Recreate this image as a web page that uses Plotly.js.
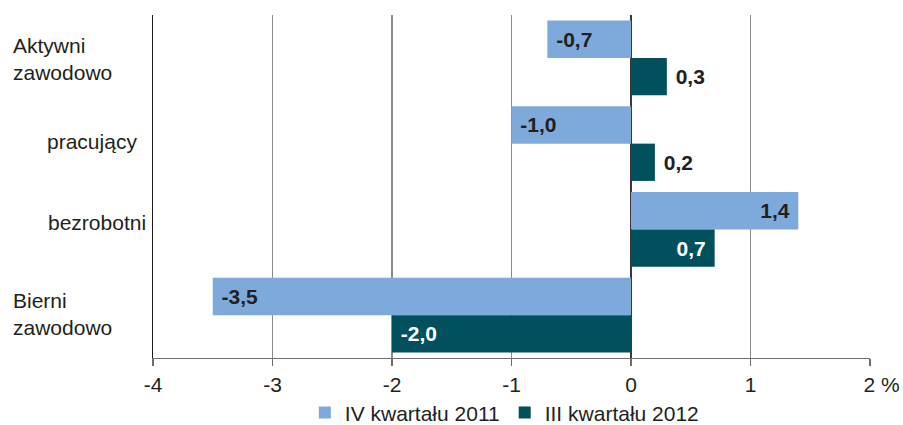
<!DOCTYPE html>
<html>
<head>
<meta charset="utf-8">
<script src="https://cdn.plot.ly/plotly-3.0.1.min.js"></script>
<style>html,body{margin:0;padding:0;background:#fff;}#chart{width:903px;height:425px;}</style>
</head>
<body>
<div id="chart"></div>
<script>
const categories = ["Aktywni<br>zawodowo", "pracujący", "bezrobotni", "Bierni<br>zawodowo"];
const seriesNames = ["IV kwartału 2011", "III kwartału 2012"];
const valuesIV2011 = [-0.7, -1.0, 1.4, -3.5];
const valuesIII2012 = [0.3, 0.2, 0.7, -2.0];
const xTickVals = [-4, -3, -2, -1, 0, 1, 2];
const xTickText = ["-4", "-3", "-2", "-1", "0", "1", "\u00a0\u00a0\u00a0\u00a02 %"];

const FONT = '"Liberation Sans", Arial, sans-serif';
const DARK = '#231f20';
const FS = 21;
const xRange = [-4, 2];

const labelStyle = [
  {xanchor: 'left', xshift: -142, yshift: -1, align: 'left'},
  {xanchor: 'right', xshift: -14, yshift: 2, align: 'right'},
  {xanchor: 'right', xshift: -5, yshift: 7, align: 'right'},
  {xanchor: 'left', xshift: -142, yshift: 1, align: 'left'}
];

const labelTemplate = '\u00a0%{x:.1f}\u00a0';

const traces = [
  {
    type: 'bar', orientation: 'h', name: seriesNames[0],
    y: categories, x: valuesIV2011,
    marker: {color: '#7daadb'},
    texttemplate: labelTemplate, textposition: 'auto', textangle: 0,
    insidetextanchor: 'end', constraintext: 'none',
    insidetextfont: {family: FONT, size: FS, color: DARK, weight: 'bold'},
    outsidetextfont: {family: FONT, size: FS, color: DARK, weight: 'bold'},
    hoverinfo: 'x'
  },
  {
    type: 'bar', orientation: 'h', name: seriesNames[1],
    y: categories, x: valuesIII2012,
    marker: {color: '#01505e'},
    texttemplate: labelTemplate, textposition: 'auto', textangle: 0,
    insidetextanchor: 'end', constraintext: 'none',
    insidetextfont: {family: FONT, size: FS, color: '#ffffff', weight: 'bold'},
    outsidetextfont: {family: FONT, size: FS, color: DARK, weight: 'bold'},
    hoverinfo: 'x'
  }
];

const zeroPos = (0 - xRange[0]) / (xRange[1] - xRange[0]);

const annotations = categories.map((c, i) => Object.assign({
  xref: 'paper', yref: 'y', x: 0, y: c, text: c, showarrow: false,
  font: {family: FONT, size: FS, color: DARK}
}, labelStyle[i]));

const layout = {
  width: 903, height: 425,
  margin: {l: 153, r: 33, t: 15, b: 67, autoexpand: false},
  paper_bgcolor: '#ffffff', plot_bgcolor: '#ffffff',
  font: {family: FONT, size: FS, color: DARK},
  separators: ', ',
  barmode: 'group', bargap: 0.13, bargroupgap: 0,
  showlegend: true,
  legend: {orientation: 'h', x: 0.49, xanchor: 'center', y: -0.1, yanchor: 'top',
           font: {family: FONT, size: FS, color: DARK}, itemwidth: 30, tracegroupgap: 0,
           borderwidth: 0},
  xaxis: {
    range: xRange, tickmode: 'array', tickvals: xTickVals, ticktext: xTickText,
    showgrid: true, gridcolor: '#8c8c8c', gridwidth: 1.3,
    zeroline: true, zerolinecolor: '#3a3a3a', zerolinewidth: 1.5,
    showline: true, linecolor: '#6e6e6e', linewidth: 1.3,
    ticks: 'outside', ticklen: 7, tickcolor: '#6e6e6e', tickwidth: 1.3,
    tickfont: {family: FONT, size: FS, color: DARK}, fixedrange: true
  },
  yaxis: {
    type: 'category', autorange: 'reversed', showticklabels: false,
    showgrid: false, zeroline: false, ticks: '',
    showline: true, linecolor: '#1a1a1a', linewidth: 1.5, fixedrange: true
  },
  yaxis2: {
    overlaying: 'y', anchor: 'free', position: zeroPos, side: 'left',
    range: [3.5, -0.5], tickmode: 'array', tickvals: [0.5, 1.5, 2.5],
    ticks: 'outside', ticklen: 6, tickcolor: '#3a3a3a', tickwidth: 1.3,
    showticklabels: false, showgrid: false, zeroline: false, showline: false, fixedrange: true
  },
  annotations: annotations
};

Plotly.newPlot('chart', traces, layout, {staticPlot: true, displayModeBar: false});
</script>
</body>
</html>
